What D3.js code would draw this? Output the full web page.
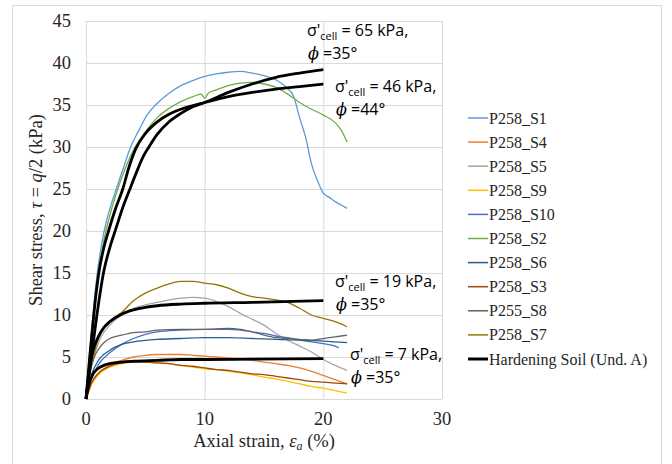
<!DOCTYPE html>
<html>
<head>
<meta charset="utf-8">
<script src="https://cdn.jsdelivr.net/npm/d3@7"></script>
<style>
  body { margin: 0; background: #fff; }
  svg { display: block; }
</style>
</head>
<body>
<div id="chart"></div>
<script>
// series: [axial strain %, shear stress kPa]
const S1 = [[0,0],[0.25,4.5],[0.5,8.5],[0.75,12.5],[1,15.5],[1.5,19.8],[2,22.6],[2.6,25.2],[3.2,27.7],[3.7,29.8],[4.5,32.1],[5.1,33.7],[6,35.2],[7,36.4],[8,37.3],[9,37.9],[10,38.4],[11,38.7],[12,38.9],[13,39],[14,38.8],[15,38.5],[16,38],[16.8,37.2],[17.5,36],[18,33.5],[18.5,31.2],[19,28],[19.5,26],[20,24.5],[20.5,24],[21,23.5],[21.5,23.1],[22,22.7]]
const S4 = [[0,0],[0.5,2],[1,3],[2,4],[3,4.6],[4,5],[5,5.2],[6,5.3],[7,5.3],[8,5.3],[9,5.2],[10,5.1],[11,5],[12,4.9],[13,4.8],[14,4.6],[15,4.4],[16,4.2],[17,4],[18,3.7],[19,3.3],[20,2.8],[21,2.3],[22,1.8]]
const S5 = [[0,0],[0.5,4],[1,6.5],[2,8.8],[3,10],[4,10.8],[5,11.2],[6,11.5],[7,11.8],[8,12],[9,12.1],[10,12],[11,11.6],[12,11],[13,10.2],[14,9.5],[15,8.8],[16,7.8],[17,7],[18,6.3],[19,5.6],[20,4.7],[21,4],[22,3.4]]
const S9 = [[0,0],[0.5,1.8],[1,2.8],[2,3.8],[3,4.2],[4,4.4],[5,4.4],[6,4.3],[7,4.2],[8,4],[9,3.8],[10,3.6],[11,3.5],[12,3.3],[13,3.1],[14,2.9],[15,2.6],[16,2.4],[17,2.1],[18,1.8],[19,1.5],[20,1.3],[21,1],[22,0.7]]
const S10 = [[0,0],[0.5,2.5],[1,4],[2,5.5],[3,6.5],[4,7.2],[5,7.7],[6,8],[8,8.2],[10,8.3],[12,8.3],[13,8.2],[14,8],[15,7.8],[16,7.5],[17,7.3],[18,7],[19,6.8],[20,6.6],[21,6.3],[21.3,6.1]]
const S2 = [[0,0],[0.5,8],[1,14.2],[1.5,18.8],[2,21.8],[3,26.3],[4.1,29.9],[5,31.8],[6,33.5],[7,34.6],[8,35.4],[9,36],[9.7,36.3],[10,35.8],[10.3,36.4],[11,36.8],[12,37.3],[13,37.6],[14,37.7],[15,37.5],[16,37.1],[17,36.3],[18,35.3],[19,34.5],[20,33.8],[21,32.9],[21.5,32],[22,30.6]]
const S6 = [[0,0],[0.5,3],[1,4.5],[2,5.8],[3,6.5],[4,6.8],[6,7.1],[8,7.2],[10,7.3],[12,7.3],[14,7.2],[16,7.1],[18,7],[20,6.9],[22,6.7]]
const S3 = [[0,0],[0.5,2],[1,3],[2,3.9],[3,4.3],[4,4.4],[5,4.4],[6,4.3],[7,4.2],[8,4],[9,3.9],[10,3.7],[11,3.5],[12,3.4],[13,3.2],[14,3],[15,2.9],[16,2.7],[17,2.5],[18,2.3],[19,2.1],[20,2],[21,1.9],[22,1.8]]
const S8 = [[0,0],[0.3,3],[0.7,5],[1,5.8],[1.5,6.7],[2,7.2],[3,7.6],[4,7.9],[5,8],[6,8.2],[8,8.3],[10,8.3],[12,8.4],[13,8.3],[14,8],[15,7.6],[16,7.3],[17,7.2],[18,7.1],[19,7],[20,7.2],[21,7.4],[22,7.6]]
const S7 = [[0,0],[0.3,3],[0.7,5.5],[1,7],[1.5,8.5],[2,9.3],[3,10.3],[4,11.7],[5,12.6],[6,13.2],[7,13.7],[8,14],[9,14],[10,13.8],[11,13.6],[12,13.2],[13,12.6],[14,12.2],[15,12],[16,11.8],[17,11.5],[18,10.8],[19,10],[20,9.6],[21,9.2],[22,8.6]]

// Hardening Soil model curves
const HS65 = [[0,0],[0.5,5.5],[1,10.8],[1.5,15.2],[2,18],[2.5,20.2],[3.1,22.8],[3.7,25],[4.2,26.8],[4.8,28.8],[5.3,30],[6,31.5],[7,33],[8,34],[9,34.8],[10,35.3],[12,36.5],[14,37.5],[16,38.3],[18,38.8],[20,39.2]]
const HS46 = [[0,0],[0.25,4],[0.5,7.8],[0.75,11.3],[1.1,15.2],[1.5,18],[1.9,20],[2.5,22.7],[3.1,25],[3.6,27.5],[4.2,29.8],[5,31.6],[6,33],[7,33.9],[8,34.5],[10,35.3],[12,36],[14,36.5],[16,36.9],[18,37.2],[20,37.5]]
const HS19 = [[0,0],[0.3,3.8],[0.6,5.8],[1,7.3],[1.5,8.5],[2,9.2],[3,10.1],[4,10.6],[5,10.9],[6,11.1],[8,11.3],[10,11.4],[14,11.5],[20,11.7]]
const HS7 = [[0,0],[0.3,2],[0.6,3],[1,3.6],[1.5,4],[2,4.2],[3,4.4],[4,4.5],[6,4.6],[8,4.7],[10,4.7],[14,4.75],[20,4.8]]

const seriesNames = ["P258_S1","P258_S4","P258_S5","P258_S9","P258_S10","P258_S2","P258_S6","P258_S3","P255_S8","P258_S7"]
const seriesData = [S1,S4,S5,S9,S10,S2,S6,S3,S8,S7]
const seriesColors = ["#5B9BD5","#ED7D31","#A5A5A5","#FFC000","#4472C4","#70AD47","#255E91","#9E480E","#636363","#997300"]
const modelName = "Hardening Soil (Und. A)"
const modelData = [HS65, HS46, HS19, HS7]

const xTicks = [0, 10, 20, 30]
const yTicks = [0, 5, 10, 15, 20, 25, 30, 35, 40, 45]

// annotation labels [pressure, friction angle, x, y of first line]
const notes = [["65","35",307,36],["46","44",335,92],["19","35",335,287],["7","35",350,360]]

const W = 672, H = 464
const serif = "'Liberation Serif', 'Times New Roman', serif"
const sans = "'Open Sans', sans-serif"
const svg = d3.select("#chart").append("svg").attr("width", W).attr("height", H)

svg.append("rect").attr("x", 12.5).attr("y", 5.5).attr("width", 649).attr("height", 470)
  .attr("fill", "none").attr("stroke", "#D9D9D9")

const x = d3.scaleLinear().domain([0, 30]).range([86, 442])
const y = d3.scaleLinear().domain([0, 45]).range([399, 21])

// gridlines
svg.append("g").selectAll("line").data(yTicks).enter().append("line")
  .attr("x1", x(0)).attr("x2", x(30)).attr("y1", d => y(d) + 0.5).attr("y2", d => y(d) + 0.5)
  .attr("stroke", "#D9D9D9")
svg.append("g").selectAll("line").data(xTicks).enter().append("line")
  .attr("y1", y(0)).attr("y2", y(45)).attr("x1", d => x(d) + 0.5).attr("x2", d => x(d) + 0.5)
  .attr("stroke", "#D9D9D9")

// tick labels
svg.append("g").selectAll("text").data(yTicks).enter().append("text")
  .attr("x", 71).attr("y", d => y(d) + 6).attr("text-anchor", "end")
  .style("font-family", serif).style("font-size", "18.5px").attr("fill", "#262626")
  .text(d => d)
svg.append("g").selectAll("text").data(xTicks).enter().append("text")
  .attr("x", d => x(d)).attr("y", 425).attr("text-anchor", "middle")
  .style("font-family", serif).style("font-size", "18.5px").attr("fill", "#262626")
  .text(d => d)

// axis titles
const xt = svg.append("text").attr("x", 264).attr("y", 447).attr("text-anchor", "middle")
  .style("font-family", serif).style("font-size", "18.5px").attr("fill", "#262626")
xt.append("tspan").text("Axial strain, ")
xt.append("tspan").attr("font-style", "italic").text("ε")
xt.append("tspan").attr("font-style", "italic").style("font-size", "12px").attr("dy", 3).text("a")
xt.append("tspan").attr("dy", -3).text(" (%)")

const yt = svg.append("text").attr("transform", "translate(42,210) rotate(-90)").attr("text-anchor", "middle")
  .style("font-family", serif).style("font-size", "18.5px").attr("fill", "#262626")
yt.append("tspan").text("Shear stress, ")
yt.append("tspan").attr("font-style", "italic").text("τ")
yt.append("tspan").text(" = ")
yt.append("tspan").attr("font-style", "italic").text("q")
yt.append("tspan").text("/2 (kPa)")

const line = d3.line().x(d => x(d[0])).y(d => y(d[1])).curve(d3.curveMonotoneX)

// test curves
svg.append("g").selectAll("path").data(seriesData).enter().append("path")
  .attr("d", line).attr("fill", "none")
  .attr("stroke", (d, i) => seriesColors[i]).attr("stroke-width", 1.3)

// model curves
svg.append("g").selectAll("path").data(modelData).enter().append("path")
  .attr("d", line).attr("fill", "none").attr("stroke", "#000").attr("stroke-width", 2.8)

// annotations
notes.forEach(n => {
  const t = svg.append("text").attr("x", n[2]).attr("y", n[3])
    .style("font-family", sans).style("font-size", "16px").attr("fill", "#000")
  t.append("tspan").text("σ'")
  t.append("tspan").style("font-size", "11px").attr("dy", 4).text("cell")
  t.append("tspan").attr("dy", -4).text(" = " + n[0] + " kPa,")
  const t2 = svg.append("text").attr("x", n[2] + 1).attr("y", n[3] + 23)
    .style("font-family", sans).style("font-size", "16px").attr("fill", "#000")
  t2.append("tspan").attr("font-style", "italic").style("font-family", "'DejaVu Serif', serif").text("ϕ")
  t2.append("tspan").text(" =" + n[1] + "°")
})

// legend
const legendItems = seriesNames.map((s, i) => ({ name: s, color: seriesColors[i], w: 1.5 }))
legendItems.push({ name: modelName, color: "#000", w: 3 })
const lg = svg.append("g").selectAll("g").data(legendItems).enter().append("g")
  .attr("transform", (d, i) => `translate(468,${118 + i * 24.1})`)
lg.append("line").attr("x1", 0).attr("x2", 20).attr("stroke", d => d.color).attr("stroke-width", d => d.w)
lg.append("text").attr("x", 21).attr("y", 5.5)
  .style("font-family", serif).style("font-size", "16px").attr("fill", "#262626")
  .text(d => d.name)
</script>
</body>
</html>
